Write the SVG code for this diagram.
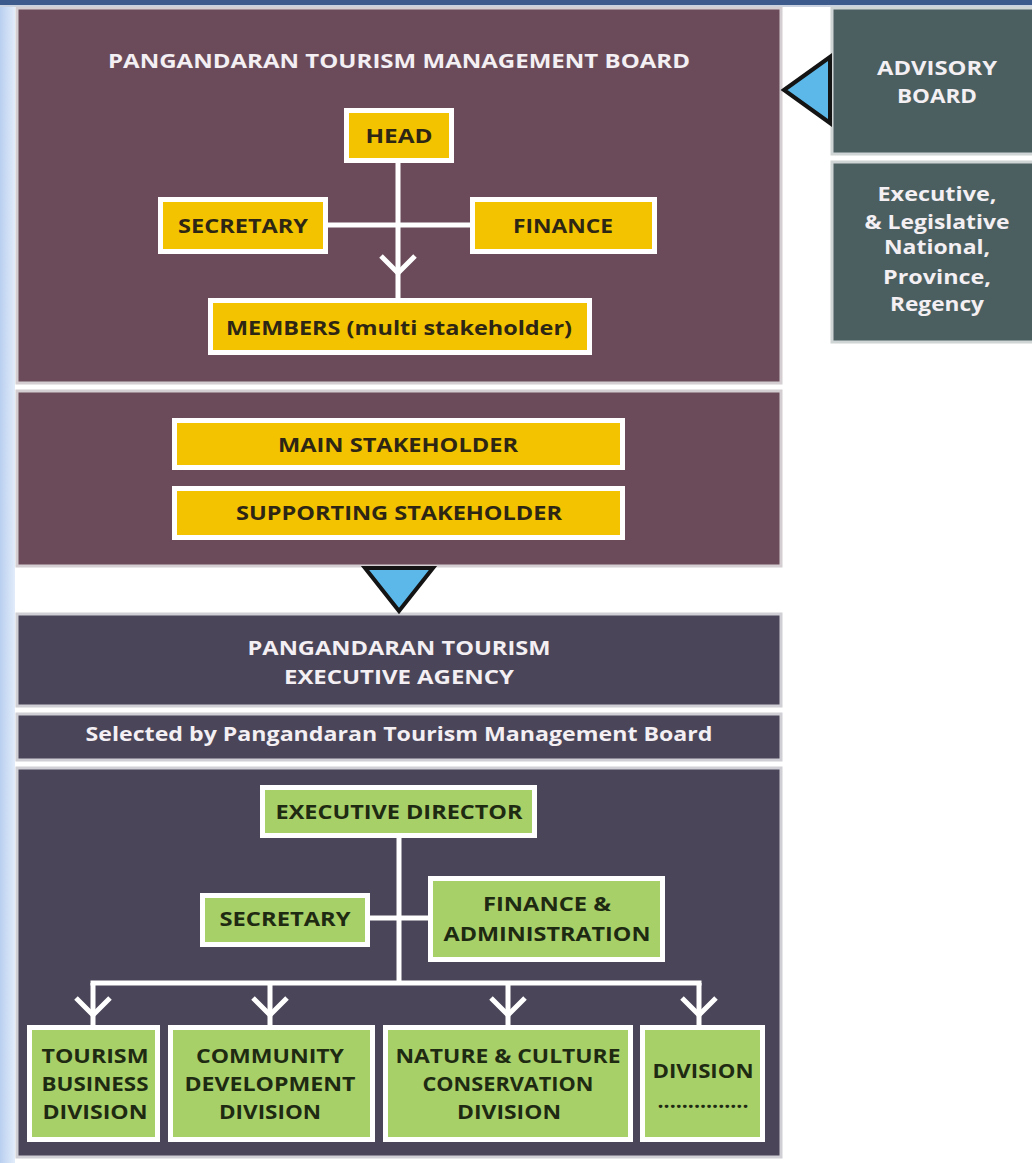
<svg xmlns="http://www.w3.org/2000/svg" width="1032" height="1163" viewBox="0 0 1032 1163">
<defs>
<linearGradient id="leftStrip" x1="0" y1="0" x2="1" y2="0">
<stop offset="0" stop-color="#b9cff0"/>
<stop offset="1" stop-color="#e2ecfa"/>
</linearGradient>
<style>
.panelM{fill:#6b4b59;stroke:#d4ced2;stroke-width:3}
.panelP{fill:#4a4558;stroke:#d0cfd6;stroke-width:3}
.panelA{fill:#4b5f60;stroke:#cfd4d4;stroke-width:3}
.ybox{fill:#f3c300;stroke:#ffffff;stroke-width:5}
.gbox{fill:#a7d069;stroke:#ffffff;stroke-width:5}
text{font-family:"Open Sans","Liberation Sans",sans-serif;font-weight:700;text-anchor:middle;dominant-baseline:central}
.tw{fill:#f3eff3;font-size:20px}
.ty{fill:#2e2614;font-size:20px}
.tg{fill:#1f2a12;font-size:20px}
.line{stroke:#ffffff;stroke-width:5;fill:none}
.chev{stroke:#ffffff;stroke-width:5;fill:none;stroke-linejoin:miter}
.tri{fill:#5cb8e8;stroke:#141414;stroke-width:4;stroke-linejoin:miter}
</style>
</defs>
<rect x="0" y="0" width="1032" height="1163" fill="#ffffff"/>
<rect x="0" y="0" width="15" height="1163" fill="url(#leftStrip)"/>
<rect x="0" y="0" width="1032" height="5" fill="#3d5a8c"/>
<rect x="0" y="5" width="1032" height="2" fill="#c9d2e0"/>

<g id="management-board">
<rect class="panelM" x="17" y="8" width="764" height="375"/>
<text class="tw" x="399" y="60" textLength="582" lengthAdjust="spacingAndGlyphs">PANGANDARAN TOURISM MANAGEMENT BOARD</text>
</g>
<g id="stakeholders">
<rect class="panelM" x="17" y="391" width="764" height="175"/>
</g>
<g id="advisory-board">
<rect class="panelA" x="832" y="8" width="202" height="146"/>
<text class="tw" x="937" y="67" textLength="120" lengthAdjust="spacingAndGlyphs">ADVISORY</text>
<text class="tw" x="937" y="95" textLength="80" lengthAdjust="spacingAndGlyphs">BOARD</text>
</g>
<g id="advisory-members">
<rect class="panelA" x="832" y="162" width="202" height="180"/>
<text class="tw" x="937" y="193" textLength="119" lengthAdjust="spacingAndGlyphs">Executive,</text>
<text class="tw" x="937" y="221" textLength="145" lengthAdjust="spacingAndGlyphs">&amp; Legislative</text>
<text class="tw" x="937" y="246" textLength="106" lengthAdjust="spacingAndGlyphs">National,</text>
<text class="tw" x="937" y="276" textLength="108" lengthAdjust="spacingAndGlyphs">Province,</text>
<text class="tw" x="937" y="303" textLength="94" lengthAdjust="spacingAndGlyphs">Regency</text>
</g>
<g id="executive-agency">
<rect class="panelP" x="17" y="614" width="764" height="92"/>
<text class="tw" x="399" y="647" textLength="303" lengthAdjust="spacingAndGlyphs">PANGANDARAN TOURISM</text>
<text class="tw" x="399" y="676" textLength="230" lengthAdjust="spacingAndGlyphs">EXECUTIVE AGENCY</text>
</g>
<g id="selected-by">
<rect class="panelP" x="17" y="714" width="764" height="46"/>
<text class="tw" x="399" y="733" textLength="627" lengthAdjust="spacingAndGlyphs">Selected by Pangandaran Tourism Management Board</text>
</g>
<g id="agency-structure">
<rect class="panelP" x="17" y="768" width="764" height="389"/>
</g>

<g id="connectors">
<path class="line" d="M398 163 V298"/>
<path class="line" d="M328 225 H470"/>
<path class="chev" d="M381 256 L398 273 L415 256"/>
<path class="line" d="M399 838 V983"/>
<path class="line" d="M370 918 H428"/>
<path class="line" d="M90.5 983 H701.5"/>
<path class="line" d="M93 983 V1025 M270 983 V1025 M508 983 V1025 M699 983 V1025"/>
<path class="chev" d="M76 998 L93 1015 L110 998 M253 998 L270 1015 L287 998 M491 998 L508 1015 L525 998 M682 998 L699 1015 L716 998"/>
</g>

<g id="arrow-advisory">
<polygon class="tri" points="784,90 830,57 830,123"/>
</g>
<g id="arrow-down">
<polygon class="tri" points="365,568 433,568 399,611"/>
</g>

<g id="head">
<rect class="ybox" x="346.5" y="110.5" width="105" height="50"/>
<text class="ty" x="399" y="135" textLength="67" lengthAdjust="spacingAndGlyphs">HEAD</text>
</g>
<g id="secretary-board">
<rect class="ybox" x="160.5" y="199.5" width="165" height="52"/>
<text class="ty" x="243" y="225" textLength="130" lengthAdjust="spacingAndGlyphs">SECRETARY</text>
</g>
<g id="finance-board">
<rect class="ybox" x="472.5" y="199.5" width="182" height="52"/>
<text class="ty" x="563" y="225" textLength="100" lengthAdjust="spacingAndGlyphs">FINANCE</text>
</g>
<g id="members">
<rect class="ybox" x="210.5" y="300.5" width="379" height="52"/>
<text class="ty" x="399" y="327" textLength="346" lengthAdjust="spacingAndGlyphs">MEMBERS (multi stakeholder)</text>
</g>
<g id="main-stakeholder">
<rect class="ybox" x="174.5" y="420.5" width="448" height="47"/>
<text class="ty" x="398" y="444" textLength="240" lengthAdjust="spacingAndGlyphs">MAIN STAKEHOLDER</text>
</g>
<g id="supporting-stakeholder">
<rect class="ybox" x="174.5" y="488.5" width="448" height="49"/>
<text class="ty" x="399" y="512" textLength="326" lengthAdjust="spacingAndGlyphs">SUPPORTING STAKEHOLDER</text>
</g>

<g id="executive-director">
<rect class="gbox" x="262.5" y="787.5" width="272" height="48"/>
<text class="tg" x="399" y="811" textLength="247" lengthAdjust="spacingAndGlyphs">EXECUTIVE DIRECTOR</text>
</g>
<g id="secretary-agency">
<rect class="gbox" x="202.5" y="895.5" width="165" height="49"/>
<text class="tg" x="285" y="918" textLength="131" lengthAdjust="spacingAndGlyphs">SECRETARY</text>
</g>
<g id="finance-administration">
<rect class="gbox" x="430.5" y="878.5" width="232" height="81"/>
<text class="tg" x="547" y="903" textLength="128" lengthAdjust="spacingAndGlyphs">FINANCE &amp;</text>
<text class="tg" x="547" y="933" textLength="207" lengthAdjust="spacingAndGlyphs">ADMINISTRATION</text>
</g>
<g id="tourism-business-division">
<rect class="gbox" x="29.5" y="1027.5" width="128" height="112"/>
<text class="tg" x="95" y="1055" textLength="107" lengthAdjust="spacingAndGlyphs">TOURISM</text>
<text class="tg" x="95" y="1083" textLength="107" lengthAdjust="spacingAndGlyphs">BUSINESS</text>
<text class="tg" x="95" y="1111" textLength="105" lengthAdjust="spacingAndGlyphs">DIVISION</text>
</g>
<g id="community-development-division">
<rect class="gbox" x="170.5" y="1027.5" width="202" height="112"/>
<text class="tg" x="270" y="1055" textLength="148" lengthAdjust="spacingAndGlyphs">COMMUNITY</text>
<text class="tg" x="270" y="1083" textLength="171" lengthAdjust="spacingAndGlyphs">DEVELOPMENT</text>
<text class="tg" x="270" y="1111" textLength="102" lengthAdjust="spacingAndGlyphs">DIVISION</text>
</g>
<g id="nature-culture-division">
<rect class="gbox" x="385.5" y="1027.5" width="245" height="112"/>
<text class="tg" x="508" y="1055" textLength="225" lengthAdjust="spacingAndGlyphs">NATURE &amp; CULTURE</text>
<text class="tg" x="508" y="1083" textLength="171" lengthAdjust="spacingAndGlyphs">CONSERVATION</text>
<text class="tg" x="509" y="1111" textLength="104" lengthAdjust="spacingAndGlyphs">DIVISION</text>
</g>
<g id="other-division">
<rect class="gbox" x="642.5" y="1027.5" width="120" height="112"/>
<text class="tg" x="703" y="1070" textLength="101" lengthAdjust="spacingAndGlyphs">DIVISION</text>
<text class="tg" x="703" y="1100" font-size="14" textLength="91" lengthAdjust="spacingAndGlyphs">...............</text>
</g>
</svg>
